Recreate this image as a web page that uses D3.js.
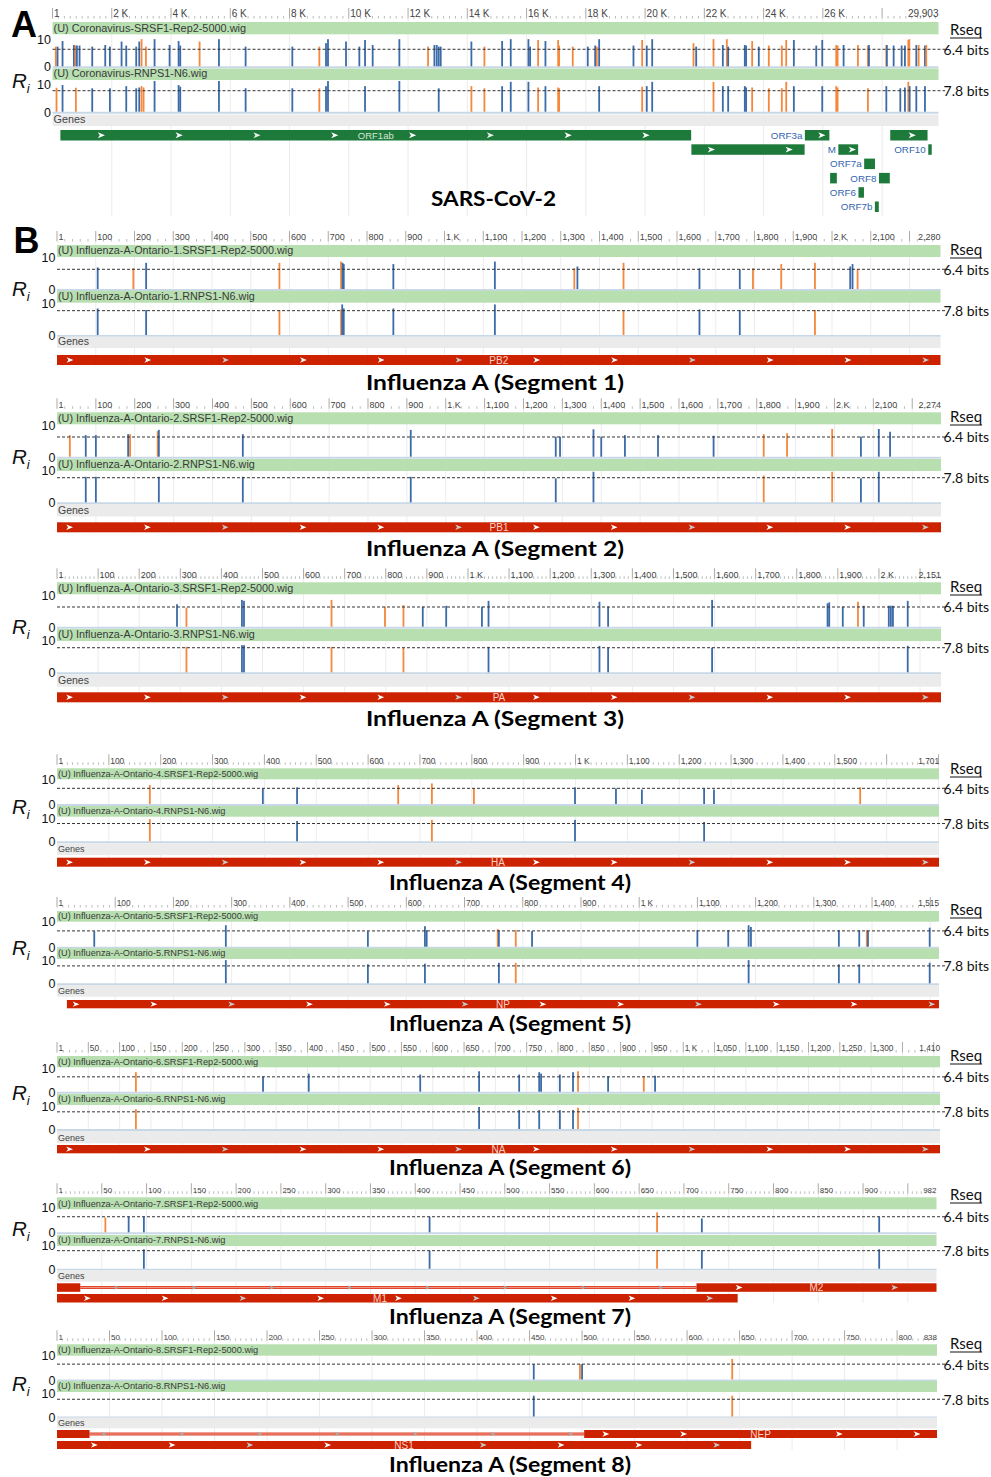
<!DOCTYPE html>
<html>
<head>
<meta charset="utf-8">
<title>Ri tracks</title>
<script src="https://d3js.org/d3.v7.min.js"></script>
<style>
  body { margin: 0; background: #fff; }
  svg { display: block; }
  text { font-family: "Liberation Sans", Arial, sans-serif; }
  .cal { font-family: Lato, "Open Sans", sans-serif; }
</style>
</head>
<body>
<script>

// sites: [position (nt), Ri (bits), class]  b = blue, o = orange
var covSRSF1 = [[110,7.4,"o"],[170,7.4,"b"],[339,9.5,"b"],[722,8.0,"b"],[778,7.8,"o"],[823,7.8,"b"],[913,7.8,"b"],
  [1341,7.4,"b"],[1780,8.0,"b"],[1937,7.4,"b"],[2331,9.3,"b"],[2489,7.8,"b"],[2826,7.4,"b"],[2928,9.3,"b"],
  [3006,10.2,"o"],[3153,7.4,"o"],[3445,10.2,"b"],[3952,8.0,"b"],[4256,9.5,"b"],[4312,7.8,"b"],[4965,9.3,"o"],
  [5618,10.2,"b"],[6518,7.4,"b"],[8094,7.4,"b"],[9006,7.4,"o"],[9231,8.7,"b"],[9298,10.2,"b"],[9906,9.3,"b"],
  [10356,7.4,"b"],[10548,9.9,"b"],[10806,8.0,"b"],[11707,10.2,"b"],[12675,7.4,"o"],[12889,8.0,"b"],[12968,8.0,"b"],
  [13035,7.4,"b"],[13103,7.4,"b"],[14138,9.3,"b"],[14577,7.4,"o"],
  [15175,9.5,"b"],[15466,10.2,"b"],[16063,10.2,"b"],[16120,7.4,"b"],[16390,9.9,"o"],[16637,9.5,"b"],[17066,9.9,"o"],
  [17099,7.8,"o"],[17559,7.4,"o"],[18065,7.4,"b"],[18315,7.8,"b"],[18370,7.4,"o"],[18450,10.2,"b"],[19608,7.8,"b"],
  [19901,9.9,"o"],[20057,7.8,"b"],[20240,10.2,"b"],[21634,8.7,"o"],[21725,7.4,"b"],[22309,10.2,"o"],[22624,8.0,"b"],
  [22759,10.2,"o"],[22804,7.4,"b"],[23366,8.0,"b"],[23410,7.8,"b"],[23614,9.5,"o"],[23838,7.4,"b"],[24176,7.8,"o"],
  [24615,7.8,"o"],[24764,9.9,"o"],[25021,9.9,"b"],[25777,7.8,"b"],[25979,9.9,"b"],[26452,8.0,"o"],[26497,7.8,"o"],
  [26700,8.0,"b"],[27183,8.0,"o"],[27521,7.8,"o"],[27555,8.0,"b"],[28142,8.0,"o"],[28160,8.0,"b"],[28389,7.8,"b"],
  [28659,7.8,"b"],[28770,7.8,"b"],[28885,9.9,"o"],[28918,10.2,"o"],[29154,8.0,"b"],[29232,8.0,"o"],[29446,7.8,"b"],
  [29490,8.0,"o"]];
var covRNPS1 = [[136,8.9,"o"],[339,9.9,"b"],[789,8.9,"o"],[1341,8.7,"b"],[1937,8.7,"b"],[2489,9.5,"b"],[2826,8.7,"b"],
  [2928,9.0,"b"],[3006,9.5,"o"],[3074,9.0,"o"],[3445,11.4,"b"],[4256,9.9,"b"],[4312,9.3,"b"],[5618,11.4,"b"],
  [6518,8.7,"b"],[8094,8.7,"b"],[9006,8.7,"o"],[9231,9.5,"b"],[9298,11.4,"b"],[10548,9.5,"b"],[11707,11.4,"b"],
  [13035,8.7,"b"],[14138,9.5,"o"],[14577,8.7,"o"],
  [15175,9.5,"b"],[15466,11.1,"b"],[16063,11.1,"b"],[16390,9.0,"o"],[16637,9.5,"b"],[17066,9.0,"o"],[17099,8.7,"o"],
  [18450,9.5,"b"],[19901,9.3,"o"],[20057,9.5,"b"],[20240,11.1,"b"],[22309,11.1,"o"],[22624,9.5,"b"],[22804,9.5,"b"],
  [23366,9.5,"b"],[23410,9.0,"b"],[23614,9.0,"o"],[24176,8.7,"o"],[24615,8.7,"o"],[24764,11.1,"o"],[25021,9.5,"b"],
  [25979,9.5,"b"],[26452,9.5,"o"],[26497,9.0,"o"],[27521,8.7,"o"],[28142,9.5,"b"],[28614,8.7,"b"],[28770,9.0,"b"],
  [28885,11.1,"o"],[28930,9.5,"b"],[29154,9.5,"b"],[29446,9.5,"b"]];

var flu1SRSF1 = [[105,7.0,"b"],[197,6.7,"o"],[230,8.5,"b"],[574,8.5,"o"],[733,8.9,"o"],[737,8.5,"b"],[740,8.1,"b"],
  [868,8.1,"b"],[1130,8.9,"b"],[1335,6.7,"o"],[1343,7.3,"b"],[1462,8.5,"o"],[1658,6.7,"b"],[1762,6.4,"b"],
  [1796,6.7,"o"],[1869,8.1,"o"],[1956,8.5,"o"],[2047,7.3,"b"],[2053,8.1,"b"],[2066,6.4,"o"]];
var flu1RNPS1 = [[105,8.5,"b"],[230,8.0,"b"],[574,8.0,"o"],[733,8.2,"o"],[736,9.8,"b"],[740,8.5,"b"],[868,8.5,"b"],
  [1130,9.8,"b"],[1462,8.0,"o"],[1658,8.2,"b"],[1762,8.0,"b"],[1956,8.0,"o"]];

var flu2SRSF1 = [[33,7.0,"o"],[74,7.0,"b"],[100,7.0,"b"],[183,7.3,"b"],[188,7.3,"o"],[259,8.3,"o"],[262,8.7,"b"],
  [478,7.3,"b"],[910,8.7,"b"],[1283,6.5,"b"],[1294,6.5,"b"],[1380,8.9,"b"],[1400,6.5,"b"],[1461,7.0,"b"],
  [1546,7.0,"b"],[1689,6.8,"b"],[1818,7.3,"o"],[1878,7.6,"o"],[1994,9.0,"o"],[2068,6.5,"b"],[2114,9.0,"b"],[2143,8.1,"b"]];
var flu2RNPS1 = [[74,8.1,"b"],[100,8.1,"b"],[262,8.1,"b"],[478,8.1,"b"],[910,8.1,"b"],[1283,7.6,"b"],[1380,9.7,"b"],
  [1818,8.5,"o"],[1994,9.7,"o"],[2068,7.6,"b"],[2114,9.7,"b"]];

var flu3SRSF1 = [[292,7.3,"b"],[315,6.2,"o"],[450,8.7,"b"],[455,8.4,"b"],[668,8.7,"o"],[798,6.5,"o"],[843,7.0,"o"],
  [890,6.5,"b"],[947,6.8,"b"],[1034,6.5,"b"],[1050,8.4,"b"],[1320,8.1,"b"],[1341,6.5,"b"],[1594,8.7,"b"],
  [1875,7.6,"b"],[1879,7.9,"b"],[1912,6.5,"b"],[1949,8.1,"o"],[1963,6.8,"b"],[2024,6.8,"b"],[2029,6.8,"b"],
  [2034,6.8,"b"],[2070,8.4,"b"]];
var flu3RNPS1 = [[315,8.1,"o"],[450,8.6,"b"],[455,8.6,"b"],[668,8.1,"o"],[843,7.8,"o"],[1050,8.1,"b"],[1320,8.4,"b"],
  [1341,7.8,"b"],[1594,7.8,"b"],[2070,8.4,"b"]];

var flu4SRSF1 = [[179,7.7,"o"],[397,6.4,"b"],[463,6.8,"b"],[658,7.7,"o"],[723,8.4,"o"],[804,6.4,"o"],[999,6.8,"b"],
  [1078,6.4,"b"],[1128,5.9,"b"],[1248,6.4,"b"],[1267,5.9,"b"],[1549,6.8,"o"]];
var flu4RNPS1 = [[179,9.7,"o"],[463,8.9,"b"],[723,9.4,"o"],[999,9.4,"b"],[1248,8.5,"b"]];

var flu5SRSF1 = [[64,6.3,"b"],[290,8.7,"b"],[534,6.3,"b"],[632,8.3,"b"],[635,6.7,"b"],[757,7.1,"o"],[759,6.7,"b"],
  [788,6.7,"o"],[816,6.3,"b"],[1100,6.7,"b"],[1153,6.7,"b"],[1188,8.7,"b"],[1192,8.0,"b"],[1343,6.7,"b"],
  [1378,6.7,"b"],[1391,6.7,"o"],[1393,6.4,"b"],[1499,7.7,"b"]];
var flu5RNPS1 = [[290,10.4,"b"],[534,8.5,"b"],[632,8.8,"b"],[759,9.2,"b"],[788,9.2,"o"],[1188,10.4,"b"],[1343,8.5,"b"],
  [1378,8.5,"b"],[1499,9.2,"b"]];

var flu6SRSF1 = [[126,8.4,"o"],[329,6.6,"b"],[402,7.8,"b"],[580,7.4,"b"],[674,8.8,"b"],[738,7.4,"b"],[770,8.4,"b"],
  [773,7.8,"b"],[803,7.4,"b"],[824,8.4,"b"],[832,8.8,"o"],[880,6.6,"b"],[937,6.6,"o"],[955,6.9,"b"]];
var flu6RNPS1 = [[126,9.0,"o"],[674,10.0,"b"],[738,8.6,"b"],[770,8.6,"b"],[803,8.6,"b"],[824,8.6,"b"],[832,9.7,"o"]];

var flu7SRSF1 = [[54,6.1,"o"],[80,6.4,"b"],[97,6.4,"b"],[416,6.4,"b"],[670,8.2,"o"],[720,5.7,"b"],[918,6.4,"b"]];
var flu7RNPS1 = [[97,8.4,"b"],[416,7.8,"b"],[670,8.1,"o"],[720,8.1,"b"],[918,8.4,"b"]];

var flu8SRSF1 = [[454,6.4,"b"],[498,6.4,"o"],[500,6.4,"b"],[643,8.6,"o"]];
var flu8RNPS1 = [[454,9.4,"b"],[643,9.4,"o"]];

// sequence lengths and thresholds
var covLen = 29903;
var fluLen = [2280, 2274, 2151, 1701, 1515, 1410, 982, 838];
var rseq = [6.4, 7.8];

// SARS-CoV-2 genes: [name, start, end, row]
var covGenes = [["ORF1ab",266,21555,0],["S",21563,25384,1],["ORF3a",25393,26220,0],["E",26245,26472,3],
  ["M",26523,27191,1],["ORF6",27202,27387,4],["ORF7a",27394,27759,2],["ORF7b",27756,27887,5],
  ["ORF8",27894,28259,3],["N",28274,29533,0],["ORF10",29558,29674,1]];

// influenza genes: [name, exons, row]
var fluGenes = [
  [["PB2",[[0,2280]],0]],
  [["PB1",[[0,2274]],0]],
  [["PA",[[0,2151]],0]],
  [["HA",[[0,1701]],0]],
  [["NP",[[17,1515]],0]],
  [["NA",[[0,1410]],0]],
  [["M2",[[0,26],[714,982]],0],["M1",[[0,760]],1]],
  [["NEP",[[0,31],[502,838]],0],["NS1",[[0,661]],1]]
];

// ---- layout ----
var covLabelMode = {ORF1ab:"in", ORF3a:"left", M:"left", ORF6:"left", ORF7a:"left", ORF7b:"left", ORF8:"left", ORF10:"left"};
var arrowStart = {ORF1ab:41, S:20, ORF3a:17, M:14, N:22, PB2:13, PB1:12.6, PA:12.6, HA:12.6, NP:9.2, NA:12.6,
  M1:30.3, M2:42.6, NS1:37.3, NEP:21.7};
var intronArrowStart = {M2:59.7, NEP:47};
var labelX = {M1:380};

var BLUE = "#3b6ba8", ORANGE = "#f6873b", GREEN = "#b7dfb0", GRAY = "#ebebeb",
    DKGREEN = "#1d7a3a", RED = "#cc2200";

var panels = [
  {len:covLen, x0:52.5, x1:938.5, step:2000, rfs:10, g1:[22,34.3], b1:66.3, t1:39.7, g2:[68.5,80], b2:111.7, t2:84.8,
   gn:[114.5,126], rows:[130], rowH:10.5, rowStep:14.3, gb:216, nfs:10.9, gfs:10.8, riY:88, rseqY:35,
   letter:"A", letterY:37, title:"SARS-CoV-2", tx:493.5, ty:197, tw:125, tfs:21,
   s1:covSRSF1, s2:covRNPS1, n1:"(U) Coronavirus-SRSF1-Rep2-5000.wig", n2:"(U) Coronavirus-RNPS1-N6.wig"},
  {x1:940.5, rfs:9, g1:[245,257], b1:289, t1:258.2, g2:[290.7,302.7], b2:335, t2:303.8, gn:[336.5,348],
   rows:[355], rowH:10, gb:366, nfs:10.8, gfs:10.5, riY:296, rseqY:255, letter:"B", letterY:253,
   tx:495, ty:381, tw:258, tfs:21, s1:flu1SRSF1, s2:flu1RNPS1},
  {x1:941, rfs:9, g1:[412.3,424.3], b1:456.7, t1:425.9, g2:[459,471], b2:502.3, t2:470.8, gn:[504,516.5],
   rows:[522.3], rowH:10, gb:533, nfs:10.8, gfs:10.5, riY:464, rseqY:422,
   tx:495, ty:547.7, tw:258, tfs:21, s1:flu2SRSF1, s2:flu2RNPS1},
  {x1:941, rfs:9, g1:[582.3,594.3], b1:626.7, t1:595.9, g2:[629,641], b2:672.3, t2:640.8, gn:[674.3,686.7],
   rows:[692.3], rowH:10, gb:703, nfs:10.8, gfs:10.5, riY:634, rseqY:592,
   tx:495, ty:717.7, tw:258, tfs:21, s1:flu3SRSF1, s2:flu3RNPS1},
  {x1:939, rfs:8.3, g1:[768.3,779.3], b1:804, t1:779.5, g2:[806,816.7], b2:841.3, t2:818.5, gn:[843.3,855],
   rows:[857.7], rowH:9, gb:867, nfs:9.2, gfs:9, riY:814, rseqY:774,
   tx:510, ty:881.7, tw:242, tfs:20, s1:flu4SRSF1, s2:flu4RNPS1},
  {x1:939, rfs:8.3, g1:[911,921.7], b1:946.7, t1:922, g2:[948.3,959], b2:983.3, t2:961, gn:[985,996.7],
   rows:[1000], rowH:8.3, gb:1009, nfs:9.2, gfs:9, riY:955, rseqY:915,
   tx:510, ty:1022.7, tw:242, tfs:20, s1:flu5SRSF1, s2:flu5RNPS1},
  {x1:940, rfs:8.3, step:50, g1:[1056,1067.3], b1:1091.7, t1:1068.5, g2:[1094,1105], b2:1129, t2:1107, gn:[1131,1143.3],
   rows:[1145], rowH:8.3, gb:1154, nfs:9.2, gfs:9, riY:1100, rseqY:1061,
   tx:510, ty:1166.7, tw:242, tfs:20, s1:flu6SRSF1, s2:flu6RNPS1},
  {x1:936.5, rfs:8, step:50, g1:[1197.3,1209.3], b1:1232.3, t1:1208, g2:[1235,1246], b2:1268.7, t2:1245.6, gn:[1270,1281.7],
   rows:[1283.3,1294], rowH:8.5, gb:1303, nfs:9.2, gfs:9, riY:1236, rseqY:1200,
   tx:510, ty:1316, tw:242, tfs:20, s1:flu7SRSF1, s2:flu7RNPS1},
  {x1:937, rfs:8, step:50, g1:[1344.3,1355.7], b1:1379.5, t1:1355.5, g2:[1381,1392], b2:1416.5, t2:1394.4, gn:[1417.5,1428.3],
   rows:[1430,1441], rowH:8, gb:1450, nfs:9.2, gfs:9, riY:1391, rseqY:1349,
   tx:510, ty:1464, tw:242, tfs:20, s1:flu8SRSF1, s2:flu8RNPS1}
];
// fill in the influenza panels
for (var k = 1; k < panels.length; k++) {
  var p = panels[k], seg = k;
  p.len = fluLen[k - 1];
  p.x0 = 57;
  p.step = p.step || 100;
  p.genes = fluGenes[k - 1];
  p.title = "Influenza A (Segment " + seg + ")";
  p.n1 = "(U) Influenza-A-Ontario-" + seg + ".SRSF1-Rep2-5000.wig";
  p.n2 = "(U) Influenza-A-Ontario-" + seg + ".RNPS1-N6.wig";
}

var svg = d3.select("body").append("svg")
  .attr("width", 991)
  .attr("height", 1477);
svg.append("rect").attr("width", 991).attr("height", 1477).attr("fill", "#fff");

var fmtComma = d3.format(",");
function tickLabel(v) {
  if (v === 0) return "1";
  if (v % 1000 === 0) return (v / 1000) + " K";
  return fmtComma(v);
}

function chevron(cx, cy, s) {
  return "M" + (cx - s) + "," + (cy - s * 0.8) + "L" + (cx + s) + "," + cy + "L" + (cx - s) + "," + (cy + s * 0.8) +
    "L" + (cx - s * 0.45) + "," + cy + "Z";
}

function drawRuler(g, x, p) {
  var y = p.g1[0] - 3.5;
  var nMaj = Math.floor((p.len - 1) / p.step);
  var majors = d3.range(0, nMaj + 1).map(function(i) { return i * p.step; });
  var div = (x(p.step) - x(0)) / 10 >= 4 ? 10 : 5;
  var mstep = p.step / div;
  var minors = d3.range(1, Math.floor(p.len / mstep) + 1)
    .filter(function(i) { return i % div !== 0; })
    .map(function(i) { return i * mstep; })
    .filter(function(v) { return v < p.len; });

  // grid lines through the tracks
  g.selectAll(null).data(majors.slice(1)).join("line")
    .attr("x1", function(d) { return x(d); }).attr("x2", function(d) { return x(d); })
    .attr("y1", y).attr("y2", p.gb)
    .attr("stroke", "#ececec").attr("stroke-width", 1);

  g.selectAll(null).data(minors).join("line")
    .attr("x1", function(d) { return x(d); }).attr("x2", function(d) { return x(d); })
    .attr("y1", y - 2.5).attr("y2", y)
    .attr("stroke", "#aaa").attr("stroke-width", 0.8);
  g.selectAll(null).data(majors).join("line")
    .attr("x1", function(d) { return x(d); }).attr("x2", function(d) { return x(d); })
    .attr("y1", y - 10.5).attr("y2", y)
    .attr("stroke", "#aaa").attr("stroke-width", 1);

  var end = g.append("text")
    .attr("x", p.x1).attr("y", y - 1.2)
    .attr("text-anchor", "end")
    .attr("font-size", p.rfs).attr("fill", "#444")
    .text(fmtComma(p.len));
  var endStart = p.x1 - end.node().getComputedTextLength();

  majors.forEach(function(v) {
    var t = g.append("text")
      .attr("x", x(v) + 1.5).attr("y", y - 1.2)
      .attr("font-size", p.rfs).attr("fill", "#444")
      .text(tickLabel(v));
    if (x(v) + 1.5 + t.node().getComputedTextLength() > endStart - 10) t.remove();
  });
}

function drawTrack(g, x, p, sites, name, gy, base, top, rs) {
  var y = d3.scaleLinear().domain([0, 10]).range([base, top]);

  g.append("rect")
    .attr("x", p.x0).attr("y", gy[0])
    .attr("width", p.x1 - p.x0).attr("height", gy[1] - gy[0])
    .attr("fill", GREEN);
  g.append("text")
    .attr("x", p.x0 + 1).attr("y", gy[1] - 2.6)
    .attr("font-size", p.nfs).attr("fill", "#3a3a3a")
    .text(name);

  g.append("line")
    .attr("x1", p.x0).attr("x2", p.x1)
    .attr("y1", base + 1).attr("y2", base + 1)
    .attr("stroke", "#c9d8e6").attr("stroke-width", 2);

  g.selectAll(null).data(sites).join("rect")
    .attr("x", function(d) { return x(d[0]) - 0.9; })
    .attr("width", 1.8)
    .attr("y", function(d) { return y(d[1]); })
    .attr("height", function(d) { return base - y(d[1]); })
    .attr("fill", function(d) { return d[2] === "o" ? ORANGE : BLUE; });

  g.append("line")
    .attr("x1", p.x0).attr("x2", 945)
    .attr("y1", y(rs)).attr("y2", y(rs))
    .attr("stroke", "#333").attr("stroke-width", 1)
    .attr("stroke-dasharray", "3,2");

  g.append("text")
    .attr("x", p.x0 - 1.5).attr("y", y(10))
    .attr("text-anchor", "end").attr("dominant-baseline", "central")
    .attr("font-size", 12.5).attr("fill", "#111")
    .text("10");
  g.append("text")
    .attr("x", p.x0 - 1.5).attr("y", y(0) + 1)
    .attr("text-anchor", "end").attr("dominant-baseline", "central")
    .attr("font-size", 12.5).attr("fill", "#111")
    .text("0");

  g.append("text").attr("class", "cal")
    .attr("x", 989).attr("y", y(rs))
    .attr("text-anchor", "end").attr("dominant-baseline", "central")
    .attr("font-size", 14).attr("fill", "#111")
    .text(rs + " bits");
}

function drawArrows(g, x0, x1, cy, start, skipX, s, colors) {
  var k = 0;
  for (var ax = x0 + start; ax < x1 - 4; ax += 77.8, k++) {
    if (skipX != null && Math.abs(ax - skipX) < 16) continue;
    g.append("path")
      .attr("d", chevron(ax, cy, s))
      .attr("fill", colors[k % colors.length]);
  }
}

function drawCovGenes(g, x, p) {
  covGenes.forEach(function(d) {
    var nm = d[0], xs = x(d[1]), xe = x(d[2]);
    var yt = p.rows[0] + d[3] * p.rowStep, cy = yt + p.rowH / 2;
    g.append("rect")
      .attr("x", xs).attr("y", yt)
      .attr("width", xe - xs).attr("height", p.rowH)
      .attr("fill", DKGREEN);
    var mode = covLabelMode[nm];
    var cx = (xs + xe) / 2;
    if (arrowStart[nm] != null)
      drawArrows(g, xs, xe, cy, arrowStart[nm], mode === "in" ? cx : null, 3.6, ["#fff", "#fff", "#e8f0e8"]);
    if (mode === "in") {
      g.append("text")
        .attr("x", cx).attr("y", cy + 3.3)
        .attr("text-anchor", "middle")
        .attr("font-size", 9.5).attr("fill", "#d8e6d8")
        .text(nm);
    } else if (mode === "left") {
      g.append("text")
        .attr("x", xs - 2.5).attr("y", cy + 3.4)
        .attr("text-anchor", "end")
        .attr("font-size", 9.8).attr("fill", "#3465b0")
        .text(nm);
    }
  });
}

function drawFluGenes(g, x, p) {
  p.genes.forEach(function(d) {
    var nm = d[0], exons = d[1];
    var yt = p.rows[d[2]], cy = yt + p.rowH / 2;
    var last = exons[exons.length - 1];
    var lx = labelX[nm] != null ? labelX[nm] : (x(last[0]) + x(last[1])) / 2;
    // intron line
    for (var i = 0; i < exons.length - 1; i++) {
      var ia = x(exons[i][1]), ib = x(exons[i + 1][0]);
      g.append("line")
        .attr("x1", ia).attr("x2", ib)
        .attr("y1", cy).attr("y2", cy)
        .attr("stroke", "#e0432a").attr("stroke-width", 3);
      g.append("line")
        .attr("x1", ia).attr("x2", ib)
        .attr("y1", cy).attr("y2", cy)
        .attr("stroke", "#f4b3a6").attr("stroke-width", 0.8);
      drawArrows(g, ia, ib, cy, intronArrowStart[nm] - (ia - p.x0), null, 2.8, ["#aaa"]);
    }
    exons.forEach(function(e, j) {
      var xs = x(e[0]), xe = x(e[1]);
      g.append("rect")
        .attr("x", xs).attr("y", yt)
        .attr("width", xe - xs).attr("height", p.rowH)
        .attr("fill", RED);
      if (j === exons.length - 1)
        drawArrows(g, xs, xe, cy, arrowStart[nm], lx, 3.4, ["#fff", "#fff", "#c8c8c8"]);
    });
    g.append("text")
      .attr("x", lx).attr("y", cy + 3.6)
      .attr("text-anchor", "middle")
      .attr("font-size", 10).attr("fill", "#f6d3c9")
      .text(nm);
  });
}

function drawPanel(p, idx) {
  var g = svg.append("g");
  var x = d3.scaleLinear().domain([0, p.len]).range([p.x0, p.x1]);

  drawRuler(g, x, p);
  drawTrack(g, x, p, p.s1, p.n1, p.g1, p.b1, p.t1, rseq[0]);
  drawTrack(g, x, p, p.s2, p.n2, p.g2, p.b2, p.t2, rseq[1]);

  // genes bar
  g.append("rect")
    .attr("x", p.x0).attr("y", p.gn[0])
    .attr("width", p.x1 - p.x0).attr("height", p.gn[1] - p.gn[0])
    .attr("fill", GRAY);
  g.append("text")
    .attr("x", p.x0 + 1).attr("y", p.gn[1] - 2.6)
    .attr("font-size", p.gfs).attr("fill", "#444")
    .text("Genes");

  if (idx === 0) drawCovGenes(g, x, p);
  else drawFluGenes(g, x, p);

  // Ri label
  var ri = g.append("text")
    .attr("x", 12).attr("y", p.riY)
    .attr("font-size", 20.5).attr("font-style", "italic").attr("fill", "#111");
  ri.append("tspan").text("R");
  ri.append("tspan").attr("font-size", 13).attr("dy", 4.5).text("i");

  // Rseq header
  var rq = g.append("text").attr("class", "cal")
    .attr("x", 950).attr("y", p.rseqY)
    .attr("font-size", 15).attr("fill", "#111")
    .text("Rseq");
  var w = rq.node().getComputedTextLength();
  g.append("line")
    .attr("x1", 950).attr("x2", 950 + w)
    .attr("y1", p.rseqY + 3).attr("y2", p.rseqY + 3)
    .attr("stroke", "#111").attr("stroke-width", 1);

  // panel letter
  if (p.letter) {
    g.append("text")
      .attr("x", p.letter === "A" ? 11 : 13.5).attr("y", p.letterY)
      .attr("font-size", 36).attr("font-weight", "bold").attr("fill", "#000")
      .text(p.letter);
  }

  // title
  g.append("text").attr("class", "cal")
    .attr("x", p.tx).attr("y", p.ty)
    .attr("text-anchor", "middle").attr("dominant-baseline", "central")
    .attr("font-size", p.tfs).attr("font-weight", "bold").attr("fill", "#000")
    .attr("textLength", p.tw).attr("lengthAdjust", "spacingAndGlyphs")
    .text(p.title);
}

panels.forEach(drawPanel);

</script>
</body>
</html>
